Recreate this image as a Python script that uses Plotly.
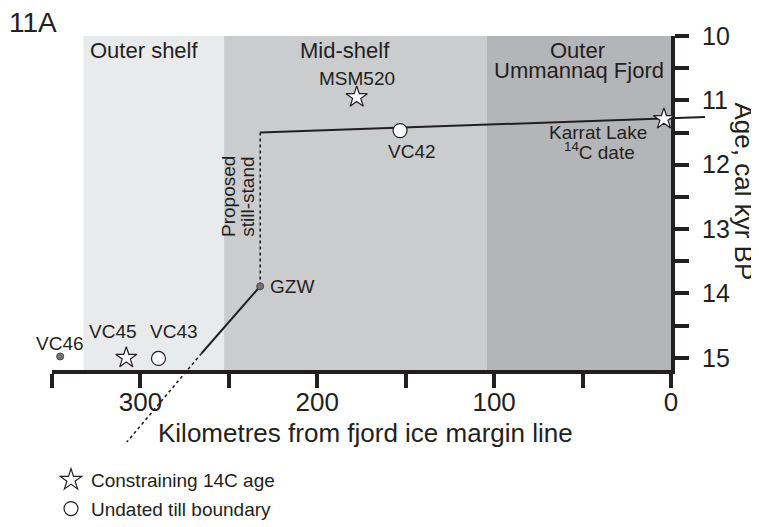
import plotly.graph_objects as go

W, H = 759, 527
FONT = "Liberation Sans, Arial, sans-serif"
INK = "#231f20"

# shelf zones (km from fjord ice margin line)
zone_names = ["Outer shelf", "Mid-shelf", "Outer Ummannaq Fjord"]
zone_from = [332.2, 252.7, 104.2]
zone_to = [252.7, 104.2, 0]
zone_colors = ["#e9eaec", "#cbccce", "#b4b5b8"]

# constraining 14C ages (stars)
star_names = ["MSM520", "VC45", "Karrat Lake"]
star_km = [177.7, 308.0, 4.0]
star_age = [10.95, 15.0, 11.29]

# undated till boundaries (circles)
circle_names = ["VC42", "VC43"]
circle_km = [153.2, 289.8]
circle_age = [11.47, 15.01]

# other sites (small dots)
dot_names = ["VC46", "GZW"]
dot_km = [345.4, 232.3]
dot_age = [14.98, 13.89]

# retreat trajectory
upper_km = [232.3, -19.2]
upper_age = [11.5, 11.26]
still_km = [232.3, 232.3]
still_age = [11.5, 13.89]
lower_km = [232.3, 265.4]
lower_age = [13.89, 14.93]
lower_ext_km = [265.4, 307.7]
lower_ext_age = [14.93, 16.31]

x_range = [350, 0]
y_range = [15.19, 10]

# the page body has an 8px margin, so figure pixels are offset from the window
OFF = 8


def px(x):
    return (x - OFF) / W


def py(y):
    return 1 - (y - OFF) / H


# plot area in window pixels
L, R, T, B = 52, 671, 36, 370
# a larger invisible subplot with identical scale, so lines may run past the axes
R2, B2 = 725, 455
x2_end = x_range[0] - (x_range[0] - x_range[1]) * (R2 - L) / (R - L)
y2_end = y_range[1] + (y_range[0] - y_range[1]) * (B2 - T) / (B - T)

fig = go.Figure()

for name, a, b, c in zip(zone_names, zone_from, zone_to, zone_colors):
    fig.add_shape(type="rect", xref="x", yref="y", x0=a, x1=b, y0=y_range[0], y1=y_range[1],
                  fillcolor=c, line_width=0, layer="below")

fig.add_trace(go.Scatter(x=upper_km, y=upper_age, mode="lines", line=dict(color=INK, width=2),
                         xaxis="x2", yaxis="y2", showlegend=False, hoverinfo="skip"))
fig.add_trace(go.Scatter(x=still_km, y=still_age, mode="lines", line=dict(color=INK, width=1.6, dash="dot"),
                         xaxis="x2", yaxis="y2", showlegend=False, hoverinfo="skip"))
fig.add_trace(go.Scatter(x=lower_km, y=lower_age, mode="lines", line=dict(color=INK, width=2),
                         xaxis="x2", yaxis="y2", showlegend=False, hoverinfo="skip"))
fig.add_trace(go.Scatter(x=lower_ext_km, y=lower_ext_age, mode="lines", line=dict(color=INK, width=1.6, dash="dot"),
                         xaxis="x2", yaxis="y2", showlegend=False, hoverinfo="skip"))

fig.add_trace(go.Scatter(x=dot_km, y=dot_age, mode="markers", text=dot_names,
                         marker=dict(size=7, color="#747474", line=dict(color="#444", width=1)),
                         xaxis="x2", yaxis="y2", showlegend=False))
fig.add_trace(go.Scatter(x=star_km, y=star_age, mode="markers", text=star_names, name="Constraining 14C age",
                         legendgroup="a",
                         marker=dict(symbol="star", size=16, color="white", line=dict(color=INK, width=1.2)),
                         xaxis="x2", yaxis="y2"))
fig.add_trace(go.Scatter(x=circle_km, y=circle_age, mode="markers", text=circle_names, name="Undated till boundary",
                         legendgroup="b",
                         marker=dict(symbol="circle", size=14, color="white", line=dict(color=INK, width=1.2)),
                         xaxis="x2", yaxis="y2"))

axis_common = dict(showline=True, linecolor=INK, linewidth=4, ticks="outside", ticklen=14,
                   tickwidth=3.5, tickcolor=INK, showgrid=False, zeroline=False, automargin=False,
                   tickfont=dict(family=FONT, size=26, color=INK))

fig.update_layout(
    width=W, height=H,
    margin=dict(l=0, r=0, t=0, b=0, autoexpand=False),
    paper_bgcolor="white", plot_bgcolor="rgba(0,0,0,0)",
    xaxis=dict(domain=[px(L), px(R)], range=x_range, anchor="y", dtick=100, tick0=0,
               ticklabelstandoff=-8,
               minor=dict(dtick=50, tick0=0, ticks="outside", ticklen=14, tickwidth=3.5, tickcolor=INK),
               **axis_common),
    yaxis=dict(domain=[py(B), py(T)], range=y_range, anchor="x", side="right", dtick=1, tick0=10,
               ticklabelstandoff=8,
               minor=dict(dtick=0.5, tick0=10, ticks="outside", ticklen=14, tickwidth=3.5, tickcolor=INK),
               **{**axis_common, "tickfont": dict(family=FONT, size=25, color=INK)}),
    xaxis2=dict(domain=[px(L), px(R2)], range=[x_range[0], x2_end], anchor="y2", visible=False,
                automargin=False),
    yaxis2=dict(domain=[py(B2), py(T)], range=[y2_end, y_range[1]], anchor="x2", visible=False,
                automargin=False),
    legend=dict(x=px(51), y=py(461), xanchor="left", yanchor="top", tracegroupgap=1,
                font=dict(family=FONT, size=19, color=INK), bgcolor="rgba(0,0,0,0)"),
    font=dict(family=FONT, color=INK),
)


def note(text, x, y, size, **kw):
    fig.add_annotation(text=text, x=px(x), y=py(y), xref="paper", yref="paper", showarrow=False,
                       xanchor="center", yanchor="middle",
                       font=dict(family=FONT, size=size, color=INK), **kw)


def label(text, x, y, dx, dy, size=19, **kw):
    kw.setdefault("xanchor", "center")
    fig.add_annotation(text=text, x=x, y=y, xref="x", yref="y", xshift=dx, yshift=dy, showarrow=False,
                       yanchor="middle", font=dict(family=FONT, size=size, color=INK), **kw)


note("11A", 33, 22, 28)
note("Outer shelf", 143.5, 51, 22)
note("Mid-shelf", 345, 51, 22)
note("Outer", 577, 51, 22)
note("Ummannaq Fjord", 578.5, 70, 22)
note("Proposed", 228, 197, 19, textangle=-90)
note("still-stand", 246.7, 197, 19, textangle=-90)
note("Age, cal kyr BP", 743, 191.5, 26, textangle=90)
note("Kilometres from fjord ice margin line", 365.5, 433, 26)

label("MSM520", star_km[0], star_age[0], 0, 19)
label("VC45", star_km[1], star_age[1], -13, 26)
label("Karrat Lake", star_km[2], star_age[2], -66, -13)
label("<sup>14</sup>C date", star_km[2], star_age[2], -64, -32)
label("VC42", circle_km[0], circle_age[0], 12, -21)
label("VC43", circle_km[1], circle_age[1], 15.5, 27)
label("VC46", dot_km[0], dot_age[0], 0, 13)
label("GZW", dot_km[1], dot_age[1], 8, 0, xanchor="left")

fig.write_html("out.html")
